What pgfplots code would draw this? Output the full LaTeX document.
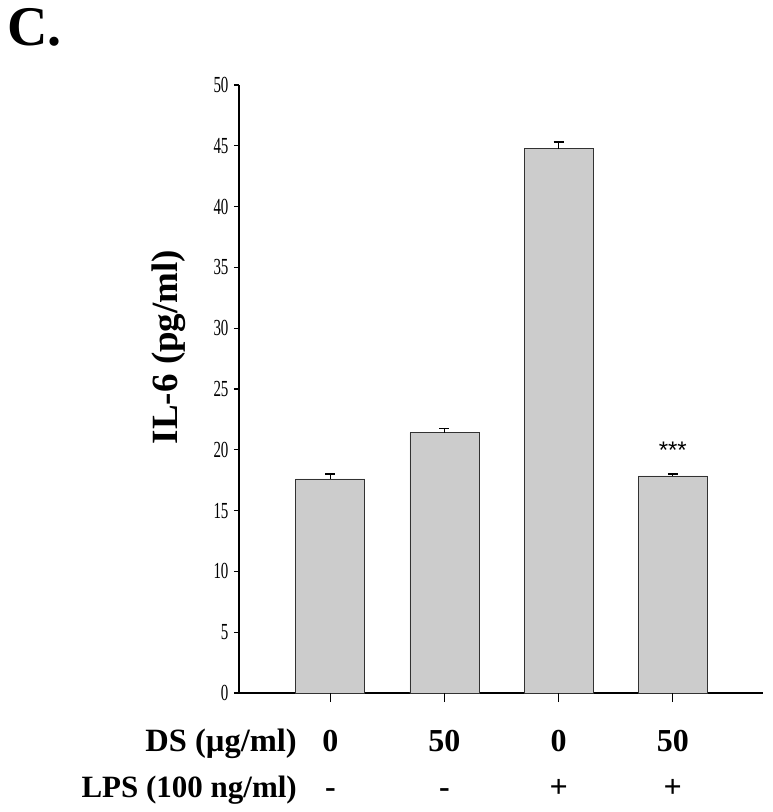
\documentclass[border=0pt]{standalone}
\usepackage{fontspec}
\setmainfont{Liberation Serif}
\newfontfamily\tickfont[FakeStretch=0.65]{Liberation Serif}
\newfontfamily\starfont{Liberation Sans}
\usepackage{pgfplots}
\pgfplotsset{compat=1.18}
\definecolor{barfill}{RGB}{204,204,204}
\definecolor{baredge}{RGB}{50,50,50}
\tikzset{botlab/.style={anchor=base, font=\bfseries\fontsize{32}{32}\selectfont}}
\begin{document}
\begin{tikzpicture}
\useasboundingbox (-239pt,-119pt) rectangle (534pt,693pt);
\begin{axis}[
  at={(0pt,0pt)}, anchor=south west,
  scale only axis, width=524pt, height=608pt,
  xmin=-0.8, xmax=3.79, ymin=0, ymax=50,
  axis x line=bottom, axis y line=left,
  axis line style={-, line width=1.3pt, black},
  ytick={0,5,...,50},
  xtick={0,1,2,3}, xticklabels={},
  tick align=outside,
  major tick length=5pt,
  tick style={black, line width=1.2pt},
  yticklabel style={font=\tickfont\fontsize{23}{23}\selectfont, xshift=-2pt},
  /pgf/number format/assume math mode=true,
  clip=false,
  ybar, bar width=69pt, bar shift=0pt,
]
\addplot[fill=barfill, draw=baredge, line width=0.8pt,
  error bars/.cd, y dir=plus, y explicit, error mark=|,
  error bar style={black, line width=1.2pt},
  error mark options={mark size=5pt, line width=1.6pt, black}]
  coordinates {
  (0,17.6) +- (0,0.4)
  (1,21.4) +- (0,0.35)
  (2,44.75) +- (0,0.55)
  (3,17.85) +- (0,0.15)
};
\node[font=\starfont\fontsize{24}{24}\selectfont] at (axis cs:3,20.0) {***};
\node[botlab] at ([yshift=-58pt]axis cs:0,0) {0};
\node[botlab] at ([yshift=-58pt]axis cs:1,0) {50};
\node[botlab] at ([yshift=-58pt]axis cs:2,0) {0};
\node[botlab] at ([yshift=-58pt]axis cs:3,0) {50};
\node[botlab] at ([yshift=-104pt]axis cs:0,0) {-};
\node[botlab] at ([yshift=-104pt]axis cs:1,0) {-};
\node[botlab] at ([yshift=-104pt]axis cs:2,0) {+};
\node[botlab] at ([yshift=-104pt]axis cs:3,0) {+};
\end{axis}
\begin{axis}[
  at={(0pt,0pt)}, anchor=south west,
  scale only axis, width=524pt, height=608pt,
  xmin=-0.8, xmax=3.79, ymin=0, ymax=50,
  axis x line=bottom, axis y line=none,
  axis line style={draw=none},
  xtick={0,1,2,3}, xticklabels={},
  tick align=outside, major tick length=9pt,
  tick style={black, line width=1.2pt},
]
\end{axis}
\node[anchor=base east, font=\bfseries\fontsize{32.5}{32.5}\selectfont, inner sep=0pt] at (58pt,-58pt) {DS (µg/ml)};
\node[anchor=base east, font=\bfseries\fontsize{31}{31}\selectfont, inner sep=0pt] at (58pt,-104pt) {LPS (100 ng/ml)};
\node[rotate=90, font=\bfseries\fontsize{37}{37}\selectfont, inner sep=0pt] at (-70pt,346pt) {IL-6 (pg/ml)};
\node[anchor=base west, font=\bfseries\fontsize{56}{56}\selectfont, inner sep=0pt] at (-232pt,647pt) {C.};
\end{tikzpicture}
\end{document}
